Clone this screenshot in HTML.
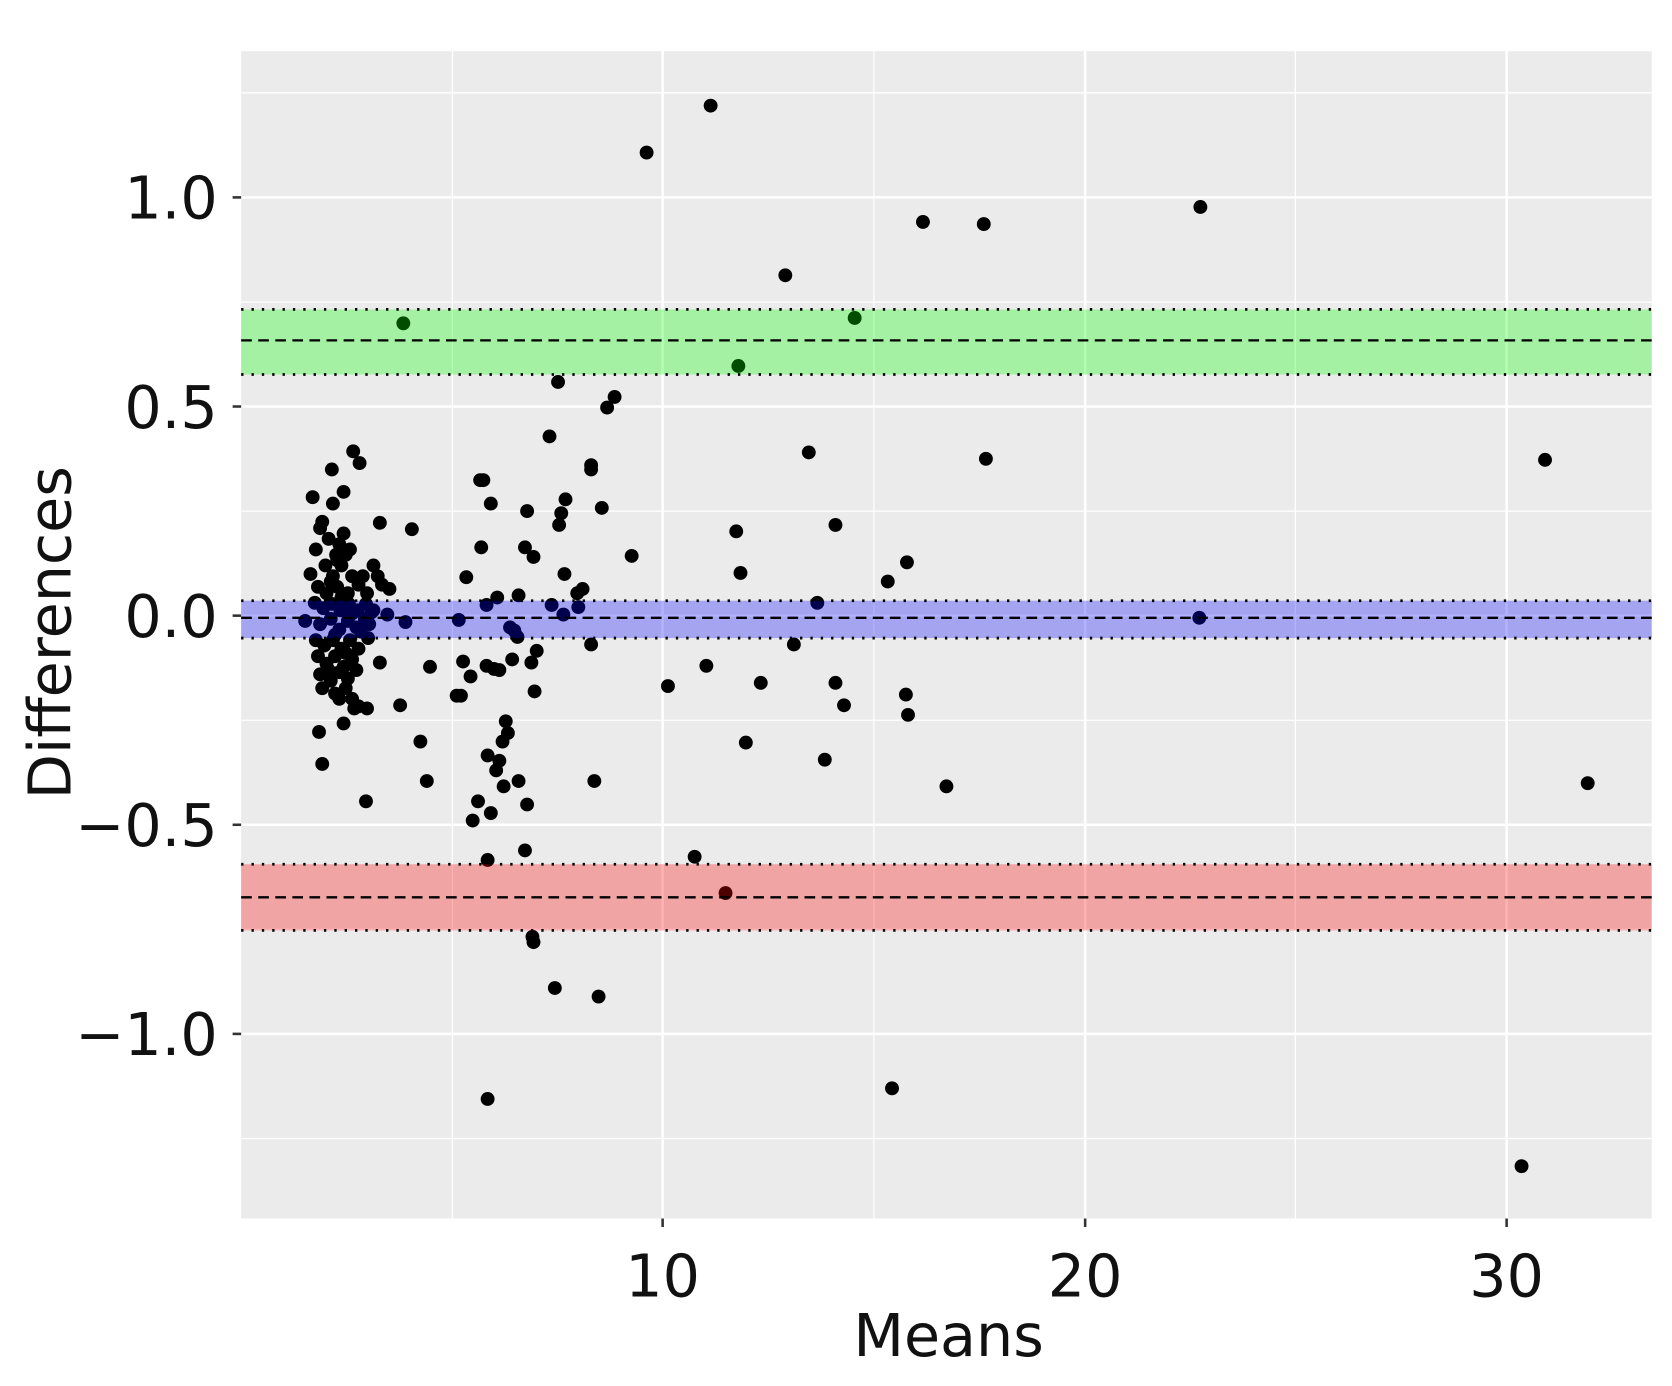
<!DOCTYPE html>
<html><head><meta charset="utf-8"><style>
html,body{margin:0;padding:0;background:#fff;}
svg{display:block;}
text{font-family:"DejaVu Sans","Liberation Sans",sans-serif;fill:#111;}
</style></head><body>
<svg width="1672" height="1386" viewBox="0 0 1567 1299" preserveAspectRatio="none" xmlns="http://www.w3.org/2000/svg">
<rect x="0" y="0" width="1567" height="1299" fill="#fff"/>
<rect x="226" y="48" width="1322" height="1094" fill="#ebebeb"/>
<g stroke="#fff" stroke-width="1.2">
<line x1="424" y1="48" x2="424" y2="1142"/><line x1="819" y1="48" x2="819" y2="1142"/><line x1="1214" y1="48" x2="1214" y2="1142"/>
<line x1="226" y1="87" x2="1548" y2="87"/><line x1="226" y1="283" x2="1548" y2="283"/><line x1="226" y1="479" x2="1548" y2="479"/><line x1="226" y1="675" x2="1548" y2="675"/><line x1="226" y1="871" x2="1548" y2="871"/><line x1="226" y1="1067" x2="1548" y2="1067"/>
</g>
<g stroke="#fff" stroke-width="2.4">
<line x1="621" y1="48" x2="621" y2="1142"/><line x1="1017" y1="48" x2="1017" y2="1142"/><line x1="1412" y1="48" x2="1412" y2="1142"/>
<line x1="226" y1="185" x2="1548" y2="185"/><line x1="226" y1="381" x2="1548" y2="381"/><line x1="226" y1="577" x2="1548" y2="577"/><line x1="226" y1="773" x2="1548" y2="773"/><line x1="226" y1="969" x2="1548" y2="969"/>
</g>
<g fill="#000">
<circle cx="666" cy="99" r="6.5"/><circle cx="606" cy="143" r="6.5"/><circle cx="1125" cy="194" r="6.5"/><circle cx="865" cy="208" r="6.5"/><circle cx="922" cy="210" r="6.5"/><circle cx="736" cy="258" r="6.5"/><circle cx="378" cy="303" r="6.5"/><circle cx="801" cy="298" r="6.5"/><circle cx="692" cy="343" r="6.5"/><circle cx="523" cy="358" r="6.5"/><circle cx="576" cy="372" r="6.5"/><circle cx="569" cy="382" r="6.5"/><circle cx="515" cy="409" r="6.5"/><circle cx="554" cy="436" r="6.5"/><circle cx="554" cy="440" r="6.5"/><circle cx="758" cy="424" r="6.5"/><circle cx="924" cy="430" r="6.5"/><circle cx="1448" cy="431" r="6.5"/><circle cx="331" cy="423" r="6.5"/><circle cx="337" cy="434" r="6.5"/><circle cx="311" cy="440" r="6.5"/><circle cx="450" cy="450" r="6.5"/><circle cx="453" cy="450" r="6.5"/><circle cx="293" cy="466" r="6.5"/><circle cx="322" cy="461" r="6.5"/><circle cx="460" cy="472" r="6.5"/><circle cx="494" cy="479" r="6.5"/><circle cx="564" cy="476" r="6.5"/><circle cx="530" cy="468" r="6.5"/><circle cx="526" cy="481" r="6.5"/><circle cx="524" cy="492" r="6.5"/><circle cx="312" cy="472" r="6.5"/><circle cx="302" cy="489" r="6.5"/><circle cx="386" cy="496" r="6.5"/><circle cx="356" cy="490" r="6.5"/><circle cx="783" cy="492" r="6.5"/><circle cx="690" cy="498" r="6.5"/><circle cx="296" cy="515" r="6.5"/><circle cx="318" cy="510" r="6.5"/><circle cx="451" cy="513" r="6.5"/><circle cx="492" cy="513" r="6.5"/><circle cx="500" cy="522" r="6.5"/><circle cx="592" cy="521" r="6.5"/><circle cx="850" cy="527" r="6.5"/><circle cx="694" cy="537" r="6.5"/><circle cx="529" cy="538" r="6.5"/><circle cx="437" cy="541" r="6.5"/><circle cx="832" cy="545" r="6.5"/><circle cx="291" cy="538" r="6.5"/><circle cx="365" cy="552" r="6.5"/><circle cx="486" cy="558" r="6.5"/><circle cx="546" cy="552" r="6.5"/><circle cx="541" cy="556" r="6.5"/><circle cx="466" cy="560" r="6.5"/><circle cx="456" cy="567" r="6.5"/><circle cx="517" cy="567" r="6.5"/><circle cx="766" cy="565" r="6.5"/><circle cx="542" cy="569" r="6.5"/><circle cx="528" cy="576" r="6.5"/><circle cx="478" cy="588" r="6.5"/><circle cx="482" cy="591" r="6.5"/><circle cx="485" cy="597" r="6.5"/><circle cx="430" cy="581" r="6.5"/><circle cx="380" cy="583" r="6.5"/><circle cx="286" cy="582" r="6.5"/><circle cx="1124" cy="579" r="6.5"/><circle cx="363" cy="576" r="6.5"/><circle cx="554" cy="604" r="6.5"/><circle cx="744" cy="604" r="6.5"/><circle cx="503" cy="610" r="6.5"/><circle cx="356" cy="621" r="6.5"/><circle cx="403" cy="625" r="6.5"/><circle cx="434" cy="620" r="6.5"/><circle cx="456" cy="624" r="6.5"/><circle cx="463" cy="627" r="6.5"/><circle cx="468" cy="628" r="6.5"/><circle cx="662" cy="624" r="6.5"/><circle cx="480" cy="618" r="6.5"/><circle cx="498" cy="621" r="6.5"/><circle cx="626" cy="643" r="6.5"/><circle cx="713" cy="640" r="6.5"/><circle cx="783" cy="640" r="6.5"/><circle cx="849" cy="651" r="6.5"/><circle cx="375" cy="661" r="6.5"/><circle cx="428" cy="652" r="6.5"/><circle cx="432" cy="652" r="6.5"/><circle cx="441" cy="634" r="6.5"/><circle cx="501" cy="648" r="6.5"/><circle cx="791" cy="661" r="6.5"/><circle cx="851" cy="670" r="6.5"/><circle cx="474" cy="676" r="6.5"/><circle cx="476" cy="687" r="6.5"/><circle cx="471" cy="695" r="6.5"/><circle cx="699" cy="696" r="6.5"/><circle cx="394" cy="695" r="6.5"/><circle cx="299" cy="686" r="6.5"/><circle cx="457" cy="708" r="6.5"/><circle cx="302" cy="716" r="6.5"/><circle cx="468" cy="713" r="6.5"/><circle cx="465" cy="722" r="6.5"/><circle cx="773" cy="712" r="6.5"/><circle cx="400" cy="732" r="6.5"/><circle cx="486" cy="732" r="6.5"/><circle cx="557" cy="732" r="6.5"/><circle cx="472" cy="737" r="6.5"/><circle cx="887" cy="737" r="6.5"/><circle cx="1488" cy="734" r="6.5"/><circle cx="343" cy="751" r="6.5"/><circle cx="448" cy="751" r="6.5"/><circle cx="494" cy="754" r="6.5"/><circle cx="443" cy="769" r="6.5"/><circle cx="460" cy="762" r="6.5"/><circle cx="492" cy="797" r="6.5"/><circle cx="457" cy="806" r="6.5"/><circle cx="651" cy="803" r="6.5"/><circle cx="680" cy="837" r="6.5"/><circle cx="499" cy="878" r="6.5"/><circle cx="500" cy="883" r="6.5"/><circle cx="520" cy="926" r="6.5"/><circle cx="561" cy="934" r="6.5"/><circle cx="836" cy="1020" r="6.5"/><circle cx="457" cy="1030" r="6.5"/><circle cx="1426" cy="1093" r="6.5"/>
<circle cx="300" cy="495" r="6.5"/><circle cx="308" cy="505" r="6.5"/><circle cx="315" cy="520" r="6.5"/><circle cx="322" cy="500" r="6.5"/><circle cx="328" cy="515" r="6.5"/><circle cx="305" cy="530" r="6.5"/><circle cx="312" cy="540" r="6.5"/><circle cx="320" cy="530" r="6.5"/><circle cx="330" cy="540" r="6.5"/><circle cx="298" cy="550" r="6.5"/><circle cx="306" cy="556" r="6.5"/><circle cx="316" cy="550" r="6.5"/><circle cx="326" cy="556" r="6.5"/><circle cx="336" cy="548" r="6.5"/><circle cx="344" cy="556" r="6.5"/><circle cx="350" cy="530" r="6.5"/><circle cx="354" cy="540" r="6.5"/><circle cx="358" cy="548" r="6.5"/><circle cx="295" cy="565" r="6.5"/><circle cx="303" cy="570" r="6.5"/><circle cx="311" cy="566" r="6.5"/><circle cx="319" cy="572" r="6.5"/><circle cx="327" cy="566" r="6.5"/><circle cx="335" cy="572" r="6.5"/><circle cx="343" cy="566" r="6.5"/><circle cx="350" cy="572" r="6.5"/><circle cx="300" cy="585" r="6.5"/><circle cx="310" cy="580" r="6.5"/><circle cx="318" cy="590" r="6.5"/><circle cx="326" cy="582" r="6.5"/><circle cx="334" cy="588" r="6.5"/><circle cx="342" cy="580" r="6.5"/><circle cx="348" cy="574" r="6.5"/><circle cx="296" cy="600" r="6.5"/><circle cx="304" cy="605" r="6.5"/><circle cx="312" cy="600" r="6.5"/><circle cx="320" cy="608" r="6.5"/><circle cx="328" cy="600" r="6.5"/><circle cx="336" cy="608" r="6.5"/><circle cx="298" cy="615" r="6.5"/><circle cx="306" cy="622" r="6.5"/><circle cx="314" cy="615" r="6.5"/><circle cx="322" cy="625" r="6.5"/><circle cx="330" cy="618" r="6.5"/><circle cx="300" cy="632" r="6.5"/><circle cx="310" cy="638" r="6.5"/><circle cx="318" cy="630" r="6.5"/><circle cx="326" cy="636" r="6.5"/><circle cx="334" cy="628" r="6.5"/><circle cx="302" cy="645" r="6.5"/><circle cx="314" cy="650" r="6.5"/><circle cx="324" cy="645" r="6.5"/><circle cx="330" cy="655" r="6.5"/><circle cx="336" cy="662" r="6.5"/><circle cx="344" cy="664" r="6.5"/><circle cx="322" cy="678" r="6.5"/><circle cx="338" cy="592" r="6.5"/><circle cx="345" cy="598" r="6.5"/>
<circle cx="316" cy="525" r="6.5"/><circle cx="324" cy="520" r="6.5"/><circle cx="310" cy="545" r="6.5"/><circle cx="320" cy="560" r="6.5"/><circle cx="330" cy="575" r="6.5"/><circle cx="314" cy="595" r="6.5"/><circle cx="324" cy="612" r="6.5"/><circle cx="308" cy="628" r="6.5"/><circle cx="340" cy="540" r="6.5"/><circle cx="346" cy="585" r="6.5"/><circle cx="318" cy="655" r="6.5"/><circle cx="332" cy="664" r="6.5"/>
</g>
<rect x="226" y="290" width="1322" height="61" fill="#00ff00" opacity="0.3"/>
<rect x="226" y="563" width="1322" height="35" fill="#0000ff" opacity="0.3"/>
<rect x="226" y="810" width="1322" height="62" fill="#ff0000" opacity="0.3"/>
<g stroke="#000" stroke-width="2.2" fill="none">
<line x1="226" y1="319" x2="1548" y2="319" stroke-dasharray="10,6"/>
<line x1="226" y1="579" x2="1548" y2="579" stroke-dasharray="10,6"/>
<line x1="226" y1="841" x2="1548" y2="841" stroke-dasharray="10,6"/>
<g stroke-dasharray="2.2,7.5" stroke-width="2.6">
<line x1="226" y1="290" x2="1548" y2="290"/><line x1="226" y1="351" x2="1548" y2="351"/>
<line x1="226" y1="563" x2="1548" y2="563"/><line x1="226" y1="598" x2="1548" y2="598"/>
<line x1="226" y1="810" x2="1548" y2="810"/><line x1="226" y1="872" x2="1548" y2="872"/>
</g>
</g>
<g stroke="#333" stroke-width="2.4">
<line x1="621" y1="1142" x2="621" y2="1150"/><line x1="1017" y1="1142" x2="1017" y2="1150"/><line x1="1412" y1="1142" x2="1412" y2="1150"/>
<line x1="218" y1="185" x2="226" y2="185"/><line x1="218" y1="381" x2="226" y2="381"/><line x1="218" y1="577" x2="226" y2="577"/><line x1="218" y1="773" x2="226" y2="773"/><line x1="218" y1="969" x2="226" y2="969"/>
</g>
<g font-size="55" text-anchor="end">
<text x="204" y="205">1.0</text><text x="204" y="401">0.5</text><text x="204" y="597">0.0</text><text x="204" y="793">−0.5</text><text x="204" y="989">−1.0</text>
</g>
<g font-size="55" text-anchor="middle">
<text x="621" y="1215">10</text><text x="1017" y="1215">20</text><text x="1412" y="1215">30</text>
<text x="889" y="1271">Means</text>
<text transform="translate(66,593) rotate(-90)">Differences</text>
</g>
</svg>
</body></html>
